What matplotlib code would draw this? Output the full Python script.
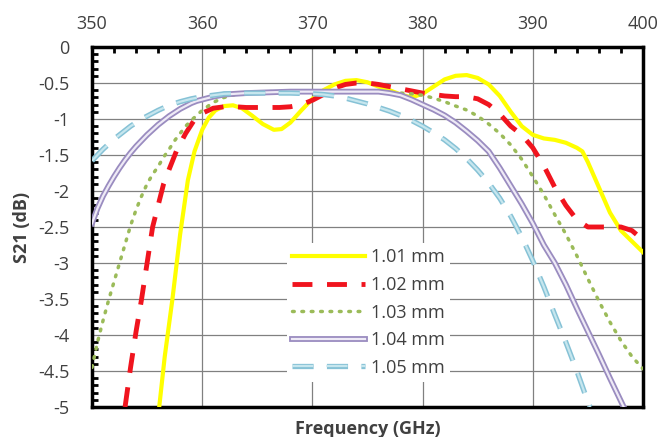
import matplotlib
matplotlib.use("Agg")
import matplotlib.pyplot as plt
import matplotlib.patheffects as pe
from matplotlib.ticker import MultipleLocator

plt.rcParams['font.family'] = ['Open Sans', 'DejaVu Sans']

# 1.01 mm
f101 = [356.1, 356.6, 357.3, 358.0, 358.7, 359.3, 360.0, 360.6, 361.2, 362.0, 362.8, 363.6,
        364.5, 365.5, 366.5, 367.2, 368.0, 369.0, 370.0, 371.0, 372.0, 373.0, 374.0, 375.0,
        376.0, 377.0, 378.0, 379.0, 380.0, 381.0, 382.0, 383.0, 384.0, 385.0, 386.0, 387.0,
        388.0, 389.0, 390.0, 391.0, 392.0, 393.0, 394.0, 394.5, 395.0, 396.0, 397.0, 398.0,
        399.0, 400.0]
s101 = [-5.0, -4.3, -3.5, -2.6, -1.85, -1.45, -1.15, -0.98, -0.88, -0.82, -0.81, -0.85,
        -0.95, -1.07, -1.15, -1.14, -1.05, -0.88, -0.72, -0.6, -0.52, -0.47, -0.46, -0.49,
        -0.55, -0.6, -0.66, -0.7, -0.65, -0.55, -0.45, -0.4, -0.39, -0.43, -0.52, -0.68,
        -0.9, -1.1, -1.22, -1.27, -1.29, -1.33, -1.4, -1.45, -1.6, -1.95, -2.3, -2.55,
        -2.7, -2.85]

# 1.02 mm
f102 = [353.0, 353.5, 354.0, 354.5, 355.0, 355.5, 356.0, 356.5, 357.0, 357.7, 358.5, 359.3,
        360.0, 361.0, 362.0, 363.0, 364.0, 365.0, 366.0, 367.0, 368.0, 369.0, 370.0, 371.0,
        372.0, 373.0, 374.0, 375.0, 376.0, 377.0, 378.0, 379.0, 380.0, 381.0, 382.0, 383.0,
        384.0, 385.0, 386.0, 387.0, 388.0, 389.0, 390.0, 391.0, 392.0, 393.0, 394.0, 395.0,
        396.0, 397.0, 398.0, 399.0, 400.0]
s102 = [-5.0, -4.45, -3.95, -3.5, -3.0, -2.5, -2.2, -1.9, -1.7, -1.43, -1.2, -1.01,
        -0.92, -0.85, -0.83, -0.83, -0.84, -0.84, -0.84, -0.84, -0.83, -0.8, -0.74, -0.66,
        -0.57, -0.52, -0.5, -0.5, -0.52, -0.55, -0.58, -0.61, -0.64, -0.66, -0.68, -0.69,
        -0.69, -0.72, -0.8, -0.93, -1.1, -1.22, -1.4, -1.65, -1.95, -2.2, -2.4, -2.5,
        -2.5, -2.5, -2.5, -2.55, -2.68]

# 1.03 mm
f103 = [350.0, 350.5, 351.0, 351.5, 352.0, 352.5, 353.0, 353.5, 354.0, 354.5, 355.0, 355.5,
        356.0, 356.5, 357.0, 357.5, 358.0, 358.5, 359.0, 359.5, 360.0, 361.0, 362.0, 363.0,
        364.0, 366.0, 368.0, 370.0, 372.0, 374.0, 376.0, 378.0, 379.0, 380.0, 381.0, 382.0,
        383.0, 384.0, 385.0, 386.0, 387.0, 388.0, 389.0, 390.0, 391.0, 392.0, 393.0, 394.0,
        395.0, 396.0, 397.0, 398.0, 399.0, 400.0]
s103 = [-4.45, -4.1, -3.8, -3.52, -3.26, -3.0, -2.74, -2.48, -2.26, -2.07, -1.9, -1.77,
        -1.66, -1.53, -1.42, -1.3, -1.2, -1.1, -1.02, -0.95, -0.88, -0.77, -0.7, -0.66,
        -0.64, -0.62, -0.62, -0.62, -0.62, -0.62, -0.62, -0.64, -0.65, -0.67, -0.71, -0.76,
        -0.82, -0.875, -0.96, -1.07, -1.2, -1.36, -1.56, -1.8, -2.05, -2.33, -2.6, -2.9,
        -3.22, -3.53, -3.82, -4.08, -4.3, -4.47]

# 1.04 mm
f104 = [350.0, 350.5, 351.0, 351.5, 352.0, 352.5, 353.0, 353.5, 354.0, 354.5, 355.0, 355.5,
        356.0, 356.5, 357.0, 357.5, 358.0, 358.5, 359.0, 359.5, 360.0, 361.0, 362.0, 363.0,
        364.0, 366.0, 368.0, 370.0, 372.0, 374.0, 376.0, 377.0, 378.0, 379.0, 380.0, 381.0,
        382.0, 383.0, 384.0, 385.0, 386.0, 387.0, 388.0, 389.0, 390.0, 391.0, 392.0, 393.0,
        394.0, 395.0, 396.0, 397.0, 398.0, 398.25]
s104 = [-2.45, -2.24, -2.07, -1.93, -1.8, -1.68, -1.57, -1.47, -1.38, -1.3, -1.22, -1.15,
        -1.08, -1.02, -0.96, -0.91, -0.86, -0.82, -0.78, -0.75, -0.73, -0.69, -0.66, -0.65,
        -0.64, -0.63, -0.62, -0.62, -0.62, -0.62, -0.62, -0.64, -0.67, -0.73, -0.8, -0.87,
        -0.95, -1.05, -1.17, -1.3, -1.45, -1.68, -1.93, -2.18, -2.45, -2.75, -3.0, -3.3,
        -3.63, -3.95, -4.27, -4.6, -4.92, -5.0]

# 1.05 mm
f105 = [350.0, 350.5, 351.0, 351.5, 352.0, 352.5, 353.0, 353.5, 354.0, 354.5, 355.0, 355.5,
        356.0, 357.0, 358.0, 359.0, 360.0, 361.0, 362.0, 364.0, 366.0, 368.0, 370.0, 371.0,
        372.0, 373.0, 374.0, 375.0, 376.0, 377.0, 378.0, 379.0, 380.0, 381.0, 382.0, 383.0,
        384.0, 385.0, 386.0, 387.0, 388.0, 389.0, 390.0, 391.0, 392.0, 393.0, 394.0, 395.0,
        395.2]
s105 = [-1.58, -1.5, -1.42, -1.35, -1.28, -1.22, -1.16, -1.1, -1.05, -1.0, -0.96, -0.92,
        -0.88, -0.81, -0.76, -0.72, -0.69, -0.67, -0.65, -0.64, -0.64, -0.64, -0.65, -0.66,
        -0.68, -0.71, -0.75, -0.79, -0.84, -0.89, -0.95, -1.02, -1.1, -1.19, -1.29, -1.41,
        -1.55, -1.71, -1.89, -2.1, -2.35, -2.64, -2.97, -3.33, -3.72, -4.1, -4.5, -4.93,
        -5.0]

fig = plt.figure(figsize=(6.62, 4.37), dpi=100)
ax = fig.add_axes([92 / 662, 1 - 407 / 437, 551 / 662, 360 / 437])

ax.plot(f101, s101, color='#FFFF00', lw=3, label='1.01 mm', zorder=3)
ax.plot(f102, s102, color='#F0141E', lw=3.5, dashes=(4.1, 3.0), label='1.02 mm', zorder=3)
ax.plot(f103, s103, color='#9BBB59', lw=2.5, linestyle=(0, (0.5, 2.2)),
        dash_capstyle='round', label='1.03 mm', zorder=3)
ax.plot(f104, s104, color='#EEEAF6', lw=1.6, label='1.04 mm', zorder=3,
        path_effects=[pe.Stroke(linewidth=4.2, foreground='#9A8CC0'), pe.Normal()])
ax.plot(f105, s105, color='#C6E6EE', lw=1.6, dashes=(9.5, 6), label='1.05 mm', zorder=3,
        path_effects=[pe.Stroke(linewidth=3.8, foreground='#86C2D6'), pe.Normal()])

ax.set_xlim(350, 400)
ax.set_ylim(-5, 0)
ax.xaxis.tick_top()
ax.xaxis.set_label_position('bottom')
ax.xaxis.set_major_locator(MultipleLocator(10))
ax.xaxis.set_minor_locator(MultipleLocator(2))
ax.set_yticks([0, -0.5, -1, -1.5, -2, -2.5, -3, -3.5, -4, -4.5, -5])
ax.set_yticklabels(['0', '-0.5', '-1', '-1.5', '-2', '-2.5', '-3', '-3.5', '-4', '-4.5', '-5'])
ax.yaxis.set_minor_locator(MultipleLocator(0.1))
ax.tick_params(axis='x', which='both', top=True, bottom=False, direction='in')
ax.tick_params(axis='y', which='both', left=True, right=False, direction='in')
ax.tick_params(which='major', length=0, labelsize=13, labelcolor='#404040')
ax.tick_params(axis='x', which='major', pad=10)
ax.tick_params(axis='y', which='major', pad=16)
ax.tick_params(which='minor', length=4, width=2, color='black')
ax.grid(True, which='major', color='#808080', lw=0.9)
ax.set_axisbelow(True)
for sp in ax.spines.values():
    sp.set_linewidth(2.5)
    sp.set_color('black')

ax.set_xlabel('Frequency (GHz)', fontsize=13, fontweight='bold', color='#404040', labelpad=9)
ax.set_ylabel('S21 (dB)', fontsize=13, fontweight='bold', color='#404040', labelpad=5)

leg = ax.legend(loc='upper left', bbox_to_anchor=(278 / 662, 1 - 234 / 437),
                bbox_transform=fig.transFigure, frameon=True, fontsize=13,
                handlelength=4.0, handletextpad=0.35, labelspacing=0.53,
                borderpad=0.3, fancybox=False)
leg.get_frame().set_edgecolor('none')
leg.get_frame().set_facecolor('white')
leg.get_frame().set_alpha(1)
for t in leg.get_texts():
    t.set_color('#404040')

fig.savefig('out.png', dpi=100)
